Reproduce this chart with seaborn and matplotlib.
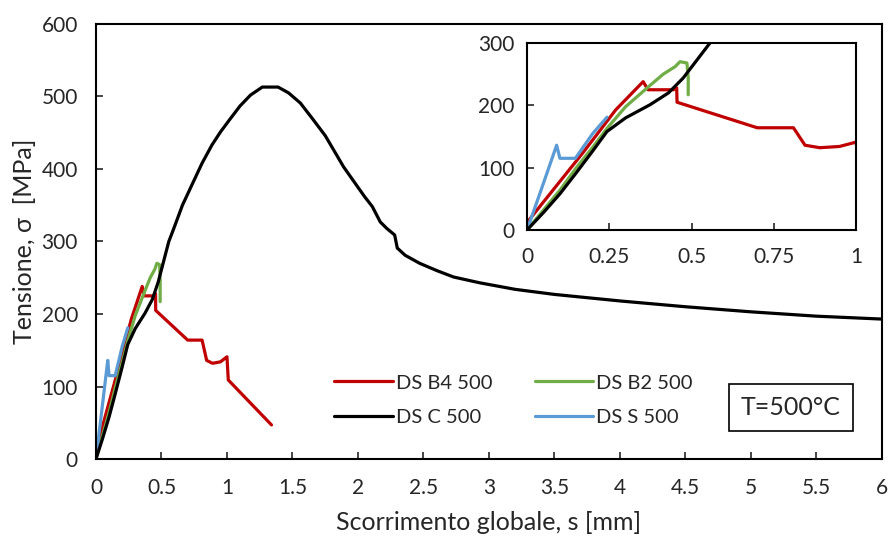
import pandas as pd
import matplotlib
matplotlib.use("Agg")
import matplotlib.pyplot as plt
import seaborn as sns

# Data (slip [mm], stress [MPa])
c_x = [0, 0.05, 0.1, 0.15, 0.2, 0.243, 0.3, 0.374, 0.43, 0.475, 0.556, 0.59, 0.66, 0.74,
       0.81, 0.885, 0.95, 1.02, 1.1, 1.18, 1.27, 1.39, 1.47, 1.56, 1.65, 1.75, 1.89, 1.96,
       2.05, 2.11, 2.17, 2.22, 2.28, 2.3, 2.36, 2.47, 2.6, 2.73, 2.93, 3.2, 3.5, 4.0, 4.5,
       5.0, 5.5, 6.0]
c_y = [0, 28, 58, 92, 127, 158, 180, 201, 220, 244, 300, 316, 350, 381,
       408, 433, 451, 468, 487, 502, 513, 513, 505, 491, 470, 446, 403, 385,
       362, 348, 327, 318, 309, 291, 281, 270, 260, 251, 243, 234, 227, 218, 210,
       203, 197, 193]

b4_x = [0, 0.05, 0.17, 0.27, 0.353, 0.368, 0.445, 0.455, 0.456, 0.70, 0.81, 0.845, 0.89,
        0.95, 1.0, 1.01, 1.34]
b4_y = [12, 45, 124, 193, 238, 225, 225, 228, 205, 164, 164, 136, 132, 134, 141, 109, 47]

b2_x = [0, 0.05, 0.1, 0.15, 0.2, 0.243, 0.3, 0.374, 0.414, 0.45, 0.465, 0.486, 0.49, 0.49]
b2_y = [0, 32, 64, 100, 133, 163, 198, 232, 250, 262, 270, 268, 245, 217]

s_x = [0, 0.04, 0.09, 0.1, 0.147, 0.2, 0.243]
s_y = [0, 60, 136, 115, 115, 155, 181]

labels = ["DS B4 500", "DS C 500", "DS B2 500", "DS S 500"]
colors = {"DS B4 500": "#C00000", "DS C 500": "#000000",
          "DS B2 500": "#70AD47", "DS S 500": "#5B9BD5"}

frames = []
for name, xs, ys in [("DS B4 500", b4_x, b4_y), ("DS C 500", c_x, c_y),
                     ("DS B2 500", b2_x, b2_y), ("DS S 500", s_x, s_y)]:
    frames.append(pd.DataFrame({"s": xs, "sigma": ys, "serie": name}))
df = pd.concat(frames, ignore_index=True)

sns.set_style("ticks")
plt.rcParams['font.family'] = ['Lato', 'DejaVu Sans']

fig = plt.figure(figsize=(8.91, 5.39), dpi=100)
ax = fig.add_axes([0.1077, 0.1484, 0.8822, 0.8071])

draw_order = ["DS B4 500", "DS B2 500", "DS S 500", "DS C 500"]
for name in draw_order:
    sub = df[df["serie"] == name]
    sns.lineplot(data=sub, x="s", y="sigma", color=colors[name], linewidth=2.3,
                 sort=False, estimator=None, ax=ax, label=name)

ax.set_xlim(0, 6)
ax.set_ylim(0, 600)
ax.set_xticks([0, 0.5, 1, 1.5, 2, 2.5, 3, 3.5, 4, 4.5, 5, 5.5, 6])
ax.set_xticklabels(["0", "0.5", "1", "1.5", "2", "2.5", "3", "3.5", "4", "4.5", "5", "5.5", "6"])
ax.set_yticks(range(0, 601, 100))
ax.tick_params(direction="in", length=5, width=1.2, labelsize=15)
ax.tick_params(axis="x", pad=14)
ax.tick_params(axis="y", pad=13)
for sp in ax.spines.values():
    sp.set_linewidth(1.5)
    sp.set_color("black")
ax.set_xlabel("Scorrimento globale, s [mm]", fontsize=18, labelpad=9)
ax.set_ylabel("Tensione, σ  [MPa]", fontsize=18, labelpad=4)

# legend, row-wise order: B4, B2 / C, S
h, l = ax.get_legend_handles_labels()
hd = dict(zip(l, h))
ax.legend([hd[n] for n in labels], labels, ncol=2, loc="upper left",
          bbox_to_anchor=(0.293, 0.213), frameon=False, fontsize=14.5,
          handlelength=2.9, handletextpad=0.15, columnspacing=2.1, labelspacing=0.85,
          borderaxespad=0)

ax.text(0.884, 0.118, "T=500°C", transform=ax.transAxes, ha="center", va="center",
        fontsize=18, bbox=dict(boxstyle="square,pad=0.48", fc="white", ec="black", lw=1.2))

# inset
axi = fig.add_axes([0.5915, 0.5733, 0.3692, 0.3469])
for name in draw_order:
    sub = df[df["serie"] == name]
    sns.lineplot(data=sub, x="s", y="sigma", color=colors[name], linewidth=2.3,
                 sort=False, estimator=None, ax=axi, legend=False)
axi.set_xlim(0, 1)
axi.set_ylim(0, 300)
axi.set_xticks([0, 0.25, 0.5, 0.75, 1])
axi.set_xticklabels(["0", "0.25", "0.5", "0.75", "1"])
axi.set_yticks([0, 100, 200, 300])
axi.set_xlabel("")
axi.set_ylabel("")
axi.tick_params(direction="in", length=5, width=1.2, labelsize=15)
axi.tick_params(axis="x", pad=12)
axi.tick_params(axis="y", pad=9)
for sp in axi.spines.values():
    sp.set_linewidth(1.5)
    sp.set_color("black")

fig.savefig("out.png", dpi=100)
